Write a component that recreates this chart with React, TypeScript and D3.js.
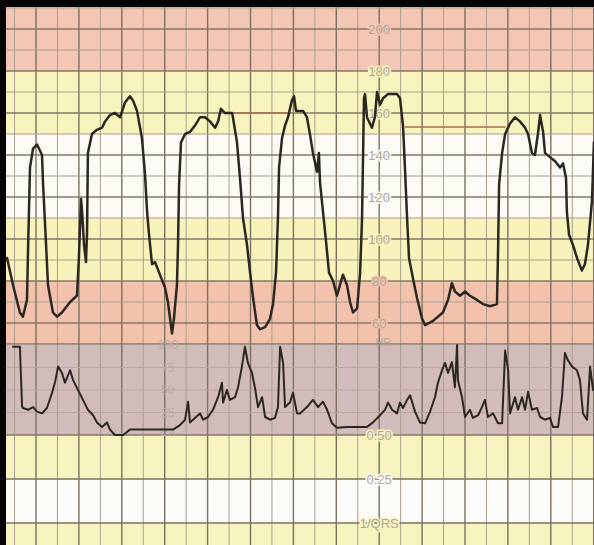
import React from 'react';
import * as d3 from 'd3';

const W = 594;
const H = 545;

// heart rate trace: [time s, bpm]
const hrTrace: [number, number][] = [
  [6.5, 91], [9.3, 78], [12.5, 65], [13.9, 63], [15.8, 71], [16.3, 95], [17.2, 134], [18.6, 143], [20.5, 145], [22.8, 140],
  [23.3, 126], [24.7, 97], [25.6, 78], [27.9, 65], [29.8, 63], [32.1, 65], [35.9, 70], [39.1, 73], [40.0, 91], [41.0, 119],
  [41.5, 113], [42.4, 97], [43.3, 89], [43.8, 103], [44.2, 141], [46.1, 150], [48.4, 152], [50.8, 153], [52.2, 156], [54.5, 159],
  [56.8, 160], [59.2, 158], [61.5, 165], [63.8, 168], [65.2, 166], [67.1, 161], [69.4, 148], [70.8, 131], [71.8, 113], [72.7, 102],
  [74.1, 88], [75.5, 89], [77.8, 83], [80.1, 77], [81.5, 70], [82.9, 59], [83.4, 55], [84.3, 62], [85.7, 78], [86.2, 97],
  [86.7, 126], [87.6, 146], [89.5, 150], [91.8, 151], [94.1, 154], [96.5, 158], [98.8, 158], [101.1, 156], [103.5, 153], [104.9, 156],
  [106.2, 162], [108.1, 160], [111.4, 160], [111.8, 158], [113.7, 146], [115.1, 129], [116.5, 110], [118.4, 97], [119.8, 84], [121.2, 72],
  [123.0, 59], [124.4, 57], [126.8, 58], [129.1, 62], [130.5, 69], [131.9, 84], [132.8, 110], [133.3, 134], [134.7, 148], [136.1, 154],
  [137.5, 158], [139.3, 166], [140.3, 168], [141.2, 161], [144.5, 161], [146.3, 158], [147.7, 150], [149.1, 141], [151.0, 132], [151.9, 141],
  [152.4, 127], [153.8, 113], [155.2, 99], [156.6, 84], [158.5, 80], [160.3, 73], [161.7, 78], [163.1, 83], [165.0, 78], [166.4, 70],
  [167.8, 65], [169.7, 67], [171.1, 84], [172.0, 110], [172.5, 141], [172.9, 167], [173.4, 169], [174.3, 158], [176.6, 153], [178.0, 158],
  [179.0, 170], [180.4, 164], [181.8, 167], [184.1, 169], [188.3, 169], [189.7, 167], [191.1, 154], [192.0, 134], [193.0, 110], [193.9, 91],
  [195.8, 81], [197.6, 72], [200.0, 62], [201.4, 59], [205.1, 61], [209.7, 65], [212.1, 71], [213.9, 79], [215.3, 75], [217.7, 73],
  [220.0, 75], [222.3, 73], [225.6, 71], [228.4, 69], [231.7, 68], [234.9, 69], [235.4, 94], [235.9, 126], [237.3, 141], [238.7, 150],
  [241.0, 155], [243.3, 158], [245.6, 156], [248.0, 153], [249.4, 150], [251.2, 141], [252.6, 140], [254.0, 150], [255.0, 159], [256.4, 151],
  [257.3, 141], [259.6, 139], [262.0, 137], [264.3, 134], [265.7, 136], [267.1, 129], [267.5, 113], [268.5, 102], [270.4, 97], [272.2, 91],
  [274.5, 85], [275.9, 88], [277.3, 97], [279.2, 118], [280.1, 146],
];

// uterine activity trace: [time s, value]
const uaTrace: [number, number][] = [
  [9.3, 98], [12.5, 98], [13.5, 32], [13.9, 30], [16.3, 28], [18.6, 31], [20.5, 26], [22.8, 24], [25.1, 30], [27.5, 47],
  [28.9, 59], [30.3, 76], [32.1, 69], [33.5, 58], [35.9, 72], [37.3, 61], [39.6, 50], [41.9, 39], [44.2, 28], [46.6, 22],
  [48.4, 14], [50.8, 9], [53.1, 14], [54.5, 6], [56.8, 0], [60.6, 0], [63.8, 6], [83.9, 6], [87.1, 11], [89.5, 17],
  [90.9, 37], [91.8, 14], [94.1, 19], [96.5, 24], [97.9, 17], [100.2, 20], [102.5, 28], [104.9, 42], [106.7, 58], [107.2, 36],
  [109.0, 50], [110.4, 39], [112.8, 42], [114.2, 53], [116.0, 76], [117.4, 98], [118.8, 80], [120.7, 69], [122.1, 52], [123.5, 31],
  [125.4, 42], [126.8, 20], [129.1, 17], [131.4, 19], [132.8, 31], [133.8, 98], [135.2, 80], [136.1, 31], [138.4, 36], [139.8, 47],
  [141.7, 24], [143.1, 24], [146.3, 31], [149.1, 39], [151.5, 31], [153.8, 37], [155.7, 28], [158.0, 13], [160.3, 8], [165.0, 9],
  [169.7, 9], [174.3, 9], [177.1, 14], [180.4, 22], [182.7, 28], [184.1, 36], [186.0, 28], [188.3, 24], [189.7, 36], [191.1, 30],
  [193.0, 39], [194.4, 44], [196.7, 26], [199.0, 14], [201.4, 13], [203.7, 26], [206.0, 42], [207.4, 58], [209.3, 72], [210.7, 80],
  [212.1, 69], [213.9, 81], [215.3, 53], [216.3, 100], [216.7, 61], [218.6, 42], [220.0, 20], [222.3, 28], [223.7, 19], [226.1, 22],
  [227.9, 31], [229.3, 39], [230.7, 20], [233.1, 24], [235.4, 13], [237.3, 13], [238.7, 94], [240.1, 72], [241.0, 24], [243.3, 42],
  [244.7, 28], [246.6, 42], [248.0, 28], [249.4, 48], [251.2, 28], [253.6, 30], [255.0, 20], [257.3, 17], [259.6, 19], [261.0, 9],
  [263.4, 9], [265.2, 42], [266.6, 91], [268.0, 83], [269.9, 76], [272.2, 72], [273.6, 61], [275.0, 24], [276.9, 17], [278.3, 76],
  [279.7, 50],
];

// signal-loss marker lines (red), bpm level and time span
const lossLevel = [160, 153.3];
const lossStart = [111.8, 192];
const lossEnd = [137.5, 239];

// heart rate bands
const bandTop = [210, 180, 150, 110, 80];
const bandBottom = [180, 150, 110, 80, 50];
const bandFill = ['#f3c7b3', '#f8f4bd', '#fbfaf5', '#f8f3bb', '#f2c2ad'];

const hrTicks = [60, 80, 100, 120, 140, 160, 180, 200];
const uaTicks = [100, 75, 50, 25];
const qrsTicks = [0.5, 0.25, 0];
const qrsLabels = ['0.50', '0.25', '1/QRS'];

const x = d3.scaleLinear().domain([0, 280]).range([36 - 20 * 2.145, 36 + 260 * 2.145]);
const yHR = d3.scaleLinear().domain([50, 210]).range([344, 8]);
const yUA = d3.scaleLinear().domain([0, 100]).range([435, 345]);
const yQ = d3.scaleLinear().domain([0, 0.5]).range([523, 435]);

const PAPER_L = 6;
const PAPER_T = 7;

const bandOf = (v: number) => {
  const i = bandTop.findIndex((t, j) => v <= t && v > bandBottom[j]);
  return bandFill[i < 0 ? 4 : i];
};

export default function App() {
  const hrLine = d3.line<[number, number]>().x(d => x(d[0])).y(d => yHR(d[1]));
  const uaLine = d3.line<[number, number]>().x(d => x(d[0])).y(d => yUA(d[1]));

  const vTimes = d3.range(10, 281, 10);
  const hrGrid = d3.range(50, 211, 10);
  const labelX = x(180);
  const uaLabelX = x(80) + 3;

  const labelStyle: React.CSSProperties = {
    fontFamily: '"Liberation Sans", Arial, sans-serif',
    fontSize: 13,
    fill: '#b0a69a',
  };

  return (
    <div style={{ position: 'absolute', left: 0, top: 0 }}>
      <svg width={W} height={H} viewBox={`0 0 ${W} ${H}`}>
        <defs>
          <filter id="soft" x="-5%" y="-5%" width="110%" height="110%">
            <feGaussianBlur stdDeviation="0.45" />
          </filter>
          <clipPath id="paper">
            <rect x={PAPER_L} y={PAPER_T} width={W - PAPER_L} height={H - PAPER_T} />
          </clipPath>
        </defs>
        <rect width={W} height={H} fill="#050505" />
        <g clipPath="url(#paper)">
          <rect x={PAPER_L} y={PAPER_T} width={W - PAPER_L} height={H - PAPER_T} fill="#fbfaf5" />
          {/* heart rate bands */}
          {bandTop.map((t, i) => (
            <rect key={'b' + i} x={PAPER_L} y={yHR(t)} width={W} height={yHR(bandBottom[i]) - yHR(t)} fill={bandFill[i]} />
          ))}
          <rect x={PAPER_L} y={PAPER_T} width={W} height={yHR(210) - PAPER_T} fill={bandFill[0]} />
          {/* UA panel */}
          <rect x={PAPER_L} y={yUA(100)} width={W} height={yUA(0) - yUA(100)} fill="#d1bcbb" />
          {/* lower panel */}
          <rect x={PAPER_L} y={yQ(0.5)} width={W} height={yQ(0.25) - yQ(0.5)} fill="#f8f4bf" />
          <rect x={PAPER_L} y={yQ(0.25)} width={W} height={yQ(0) - yQ(0.25)} fill="#fbfbf7" />
          <rect x={PAPER_L} y={yQ(0)} width={W} height={H - yQ(0)} fill="#f8f4bf" />

          <g filter="url(#soft)">
            {/* vertical grid */}
            {vTimes.map(t => (
              <line key={'v' + t} x1={x(t)} x2={x(t)} y1={PAPER_T} y2={H}
                stroke={t % 20 === 0 ? '#7c7061' : '#aa9f90'} strokeWidth={t % 20 === 0 ? 1.4 : 1} />
            ))}
            {/* HR horizontal grid */}
            {hrGrid.map(v => (
              <line key={'h' + v} x1={PAPER_L} x2={W} y1={yHR(v)} y2={yHR(v)}
                stroke={v % 20 === 0 || v === 50 ? '#857867' : '#a99d8e'} strokeWidth={v % 20 === 0 || v === 50 ? 1.3 : 1} />
            ))}
            {/* UA grid */}
            {[25, 50, 75].map(v => (
              <line key={'u' + v} x1={PAPER_L} x2={W} y1={yUA(v)} y2={yUA(v)} stroke="#bba6a5" strokeWidth={1} />
            ))}
            <line x1={PAPER_L} x2={W} y1={yUA(0)} y2={yUA(0)} stroke="#857867" strokeWidth={1.3} />
            {/* lower grid */}
            {[0.25, 0].map(v => (
              <line key={'q' + v} x1={PAPER_L} x2={W} y1={yQ(v)} y2={yQ(v)} stroke="#7c7061" strokeWidth={1.4} />
            ))}
          </g>

          {/* labels */}
          {hrTicks.map(v => (
            <text key={'hl' + v} x={labelX} y={yHR(v)} dy="0.36em" textAnchor="middle" style={labelStyle}
              stroke={bandOf(v)} strokeWidth={3} paintOrder="stroke">
              {v}
            </text>
          ))}
          <text x={labelX + 4} y={yHR(50)} dy="0.2em" textAnchor="middle" style={{ ...labelStyle, fontSize: 11 }}>HR</text>
          {uaTicks.map(v => (
            <text key={'ul' + v} x={uaLabelX} y={yUA(v)} dy="0.36em" textAnchor="middle"
              style={{ ...labelStyle, fontSize: 12, fill: '#baaaa9' }}>
              {v}
            </text>
          ))}
          <text x={uaLabelX} y={yUA(0)} dy="0.1em" textAnchor="middle" style={{ ...labelStyle, fontSize: 11, fill: '#baaaa9' }}>UA</text>
          {qrsTicks.map((v, i) => (
            <text key={'ql' + v} x={labelX} y={yQ(v)} dy="0.36em" textAnchor="middle" style={labelStyle}
              stroke={i === 1 ? '#fbfbf7' : '#f8f4bf'} strokeWidth={3} paintOrder="stroke">
              {qrsLabels[i]}
            </text>
          ))}

          {/* signal loss marks */}
          {lossLevel.map((v, i) => (
            <line key={'l' + i} x1={x(lossStart[i])} x2={x(lossEnd[i])} y1={yHR(v)} y2={yHR(v)}
              stroke="#b56a52" strokeWidth={1.6} />
          ))}

          {/* traces */}
          <g filter="url(#soft)" fill="none" stroke="#2c2823" strokeLinejoin="round" strokeLinecap="round">
            <path d={hrLine(hrTrace) ?? ''} strokeWidth={2.5} />
            <path d={uaLine(uaTrace) ?? ''} strokeWidth={2} />
          </g>
        </g>
      </svg>
    </div>
  );
}
